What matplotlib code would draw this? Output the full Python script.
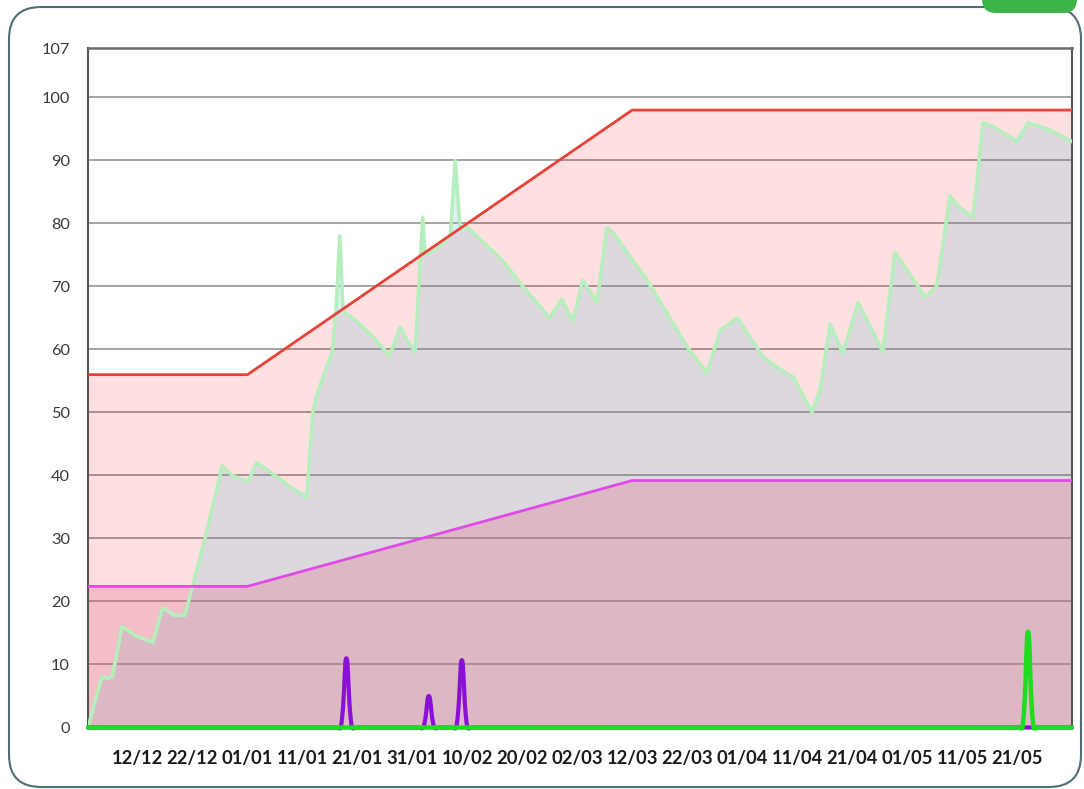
import numpy as np
import matplotlib
matplotlib.use("Agg")
import matplotlib.pyplot as plt
from matplotlib.patches import FancyBboxPatch

# ---------------- data (x = day index, day 0 = 03/12) ----------------
n_days = 180
tick_days = [9, 19, 29, 39, 49, 59, 69, 79, 89, 99, 109, 119, 129, 139, 149, 159, 169]
tick_labels = ["12/12", "22/12", "01/01", "11/01", "21/01", "31/01", "10/02", "20/02",
               "02/03", "12/03", "22/03", "01/04", "11/04", "21/04", "01/05", "11/05", "21/05"]
y_ticks = [0, 10, 20, 30, 40, 50, 60, 70, 80, 90, 100]
y_top = 107.8
y_top_label = "107"

curve_day = [0, 2.5, 3.6, 4.4, 6.2, 8.6, 11.8, 13.6, 15.8, 17.6, 18.9, 21.3, 24.4, 26.2,
             29.1, 30.7, 34.0, 37.1, 39.8, 40.9, 41.7, 44.4, 45.1, 45.8, 46.4, 48.2, 51.8,
             54.9, 56.8, 58.0, 59.5, 60.9, 61.3, 63.5, 65.9, 66.8, 67.7, 68.9, 73.1, 75.5,
             79.1, 84.0, 86.2, 88.2, 90.0, 92.6, 94.4, 95.5, 101.7, 109.0, 112.6, 115.0,
             118.1, 122.8, 125.9, 128.3, 131.7, 133.2, 135.0, 137.3, 140.1, 144.6, 146.8,
             152.3, 154.4, 156.8, 158.6, 161.0, 161.7, 162.8, 164.6, 169.0, 171.0, 174.5, 179]
curve_val = [0, 8, 7.8, 8, 16, 14.6, 13.5, 19, 17.8, 17.8, 22, 30, 41.5, 40,
             39, 42, 40, 38, 36.5, 50, 53, 59.5, 66, 78, 66, 65, 62,
             59, 63.5, 61.5, 59.6, 81, 75, 76, 78, 90, 79, 79.5, 76, 74,
             70, 65, 68, 64.4, 71, 67.4, 79.3, 78.5, 71, 60.4, 56.3, 63,
             65, 58.8, 56.8, 55.6, 50, 53.6, 64, 59.4, 67.4, 59.6, 75.4,
             68.3, 70, 84.3, 82.5, 81, 86.5, 96, 95.4, 93, 96, 95, 93]

upper_day = [0, 29, 99, 179]
upper_val = [56, 56, 98, 98]
lower_day = [0, 29, 99, 179]
lower_val = [22.4, 22.4, 39.2, 39.2]

purple_spike_day = [47, 62, 68]
purple_spike_val = [11.0, 5.0, 10.7]
green_spike_day = [171]
green_spike_val = [15.2]

# ---------------- helpers ----------------
W, H = 1084, 789
ax_l, ax_r, ax_t, ax_b = 88, 1072, 48.3, 727.5
sx = (ax_r - ax_l) / (n_days - 1)
sy = (ax_b - ax_t) / y_top


def chartjs_spline(xs, ys, tension=0.4, samples=16):
    """Bezier smoothing like Chart.js (computed in pixel space)."""
    xs = np.asarray(xs, float) * sx
    ys = np.asarray(ys, float) * sy
    n = len(xs)
    prev_c = np.zeros((n, 2))
    next_c = np.zeros((n, 2))
    for i in range(n):
        p1 = np.array([xs[i], ys[i]])
        p0 = np.array([xs[i - 1], ys[i - 1]]) if i > 0 else p1
        p2 = np.array([xs[i + 1], ys[i + 1]]) if i < n - 1 else p1
        d01 = np.hypot(*(p1 - p0))
        d12 = np.hypot(*(p2 - p1))
        tot = d01 + d12
        s01 = d01 / tot if tot else 0
        s12 = d12 / tot if tot else 0
        prev_c[i] = p1 - tension * s01 * (p2 - p0)
        next_c[i] = p1 + tension * s12 * (p2 - p0)
    t = np.linspace(0, 1, samples)[:, None]
    out = []
    for i in range(n - 1):
        a = np.array([xs[i], ys[i]])
        b = next_c[i]
        c = prev_c[i + 1]
        d = np.array([xs[i + 1], ys[i + 1]])
        seg = (1 - t) ** 3 * a + 3 * (1 - t) ** 2 * t * b + 3 * (1 - t) * t ** 2 * c + t ** 3 * d
        out.append(seg if i == 0 else seg[1:])
    out = np.vstack(out)
    return out[:, 0] / sx, out[:, 1] / sy


days = np.arange(n_days)
purple = np.zeros(n_days)
purple[purple_spike_day] = purple_spike_val
green = np.zeros(n_days)
green[green_spike_day] = green_spike_val

# ---------------- figure ----------------
plt.rcParams['font.family'] = ['Lato', 'DejaVu Sans']
fig = plt.figure(figsize=(W / 100, H / 100), dpi=100)
fig.patch.set_facecolor('white')

bg = fig.add_axes([0, 0, 1, 1], zorder=-5)
bg.set_xlim(0, W)
bg.set_ylim(H, 0)
bg.axis('off')
card = FancyBboxPatch((9, 7), 1072, 780, boxstyle="round,pad=0,rounding_size=32",
                      facecolor='white', edgecolor='#4f6f78', linewidth=1.5)
bg.add_patch(card)
btn = FancyBboxPatch((982, -30), 95, 43, boxstyle="round,pad=0,rounding_size=14",
                     facecolor='#3cb44a', edgecolor='none')
bg.add_patch(btn)

ax = fig.add_axes([ax_l / W, 1 - ax_b / H, (ax_r - ax_l) / W, (ax_b - ax_t) / H])
ax.set_facecolor('white')
ax.set_xlim(0, n_days - 1)
ax.set_ylim(0, y_top)

# grid
for v in y_ticks:
    ax.axhline(v, color='#a3a3a3', lw=1.4, zorder=0.5)

# fills
ax.fill_between(upper_day, 0, upper_val, color=(1.0, 0.0, 0.0), alpha=0.12, lw=0, zorder=1)
ax.fill_between(curve_day, 0, curve_val, color=(80 / 255, 184 / 255, 209 / 255), alpha=0.2,
                lw=0, zorder=1.1)
ax.fill_between(lower_day, 0, lower_val, color=(217 / 255, 113 / 255, 139 / 255), alpha=0.3,
                lw=0, zorder=1.2)

# lines
ax.plot(curve_day, curve_val, color='#b6eebd', lw=2.6, zorder=3, solid_joinstyle='round')
ax.plot(upper_day, upper_val, color='#e5423a', lw=2.0, zorder=3.2)
ax.plot(lower_day, lower_val, color='#e04ae6', lw=2.0, zorder=3.2)

px, py = chartjs_spline(days, purple)
ax.plot(px, py, color='#8a10d8', lw=3.0, zorder=4, clip_on=False, solid_capstyle='round')
gx, gy = chartjs_spline(days, green)
ax.plot(gx, gy, color='#1fdc1f', lw=3.2, zorder=4.2, clip_on=False, solid_capstyle='round')

# axes styling
for s in ['left', 'right']:
    ax.spines[s].set_color('#555555')
    ax.spines[s].set_linewidth(1.5)
ax.spines['top'].set_color('#6a6a6a')
ax.spines['top'].set_linewidth(1.8)
ax.spines['bottom'].set_visible(False)

ax.set_yticks(y_ticks + [y_top])
ax.set_yticklabels([str(v) for v in y_ticks] + [y_top_label])
ax.set_xticks(tick_days)
ax.set_xticklabels(tick_labels)
ax.tick_params(axis='y', length=0, pad=13, labelsize=11.8, labelcolor='#3a3a3a')
ax.tick_params(axis='x', length=0, pad=16, labelsize=13.2, labelcolor='#1a1a1a')
for lab in ax.get_xticklabels():
    lab.set_fontweight('bold')

fig.savefig('out.png', dpi=100)
